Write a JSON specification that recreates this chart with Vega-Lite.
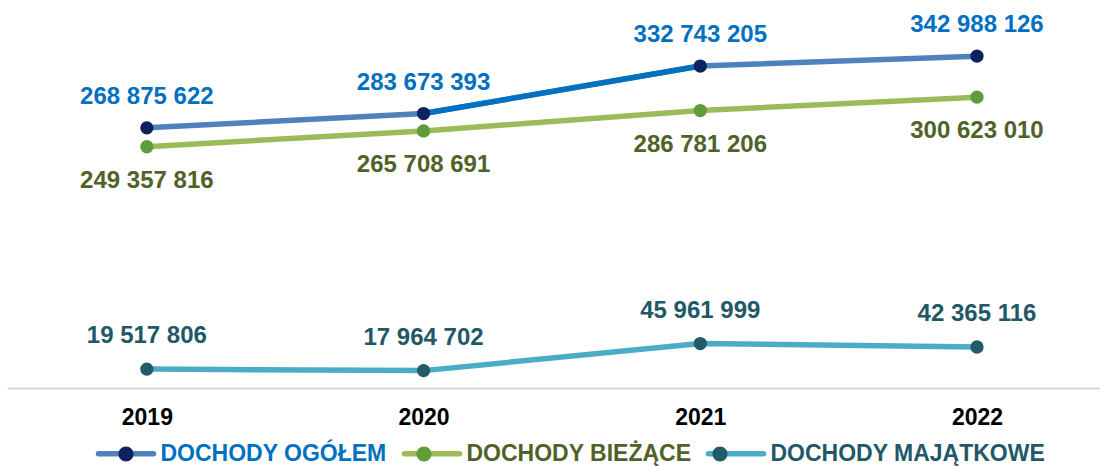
{
  "$schema": "https://vega.github.io/schema/vega-lite/v6.json",
  "width": 1093,
  "height": 387,
  "autosize": {"type": "none"},
  "padding": {"left": 7, "top": 1, "right": 0, "bottom": 78},
  "config": {
    "view": {"stroke": null},
    "font": "Liberation Sans",
    "locale": {"number": {"decimal": ",", "thousands": " ", "grouping": [3], "currency": ["", " zł"]}}
  },
  "data": {
    "values": [
      {"year": 2019, "series": "DOCHODY OGÓŁEM", "value": 268875622},
      {"year": 2020, "series": "DOCHODY OGÓŁEM", "value": 283673393},
      {"year": 2021, "series": "DOCHODY OGÓŁEM", "value": 332743205},
      {"year": 2022, "series": "DOCHODY OGÓŁEM", "value": 342988126},
      {"year": 2019, "series": "DOCHODY BIEŻĄCE", "value": 249357816},
      {"year": 2020, "series": "DOCHODY BIEŻĄCE", "value": 265708691},
      {"year": 2021, "series": "DOCHODY BIEŻĄCE", "value": 286781206},
      {"year": 2022, "series": "DOCHODY BIEŻĄCE", "value": 300623010},
      {"year": 2019, "series": "DOCHODY MAJĄTKOWE", "value": 19517806},
      {"year": 2020, "series": "DOCHODY MAJĄTKOWE", "value": 17964702},
      {"year": 2021, "series": "DOCHODY MAJĄTKOWE", "value": 45961999},
      {"year": 2022, "series": "DOCHODY MAJĄTKOWE", "value": 42365116}
    ]
  },
  "encoding": {
    "x": {
      "field": "year",
      "type": "ordinal",
      "scale": {"type": "point", "padding": 0.475, "align": 0.532},
      "axis": {
        "title": null,
        "labelAngle": 0,
        "labelFont": "Liberation Sans",
        "labelFontSize": 23,
        "labelFontWeight": "bold",
        "labelColor": "#000000",
        "ticks": false,
        "grid": false,
        "domainColor": "#d9d9d9",
        "domainWidth": 2,
        "labelPadding": 18
      }
    },
    "y": {
      "field": "value",
      "type": "quantitative",
      "scale": {"domain": [0, 400000000]},
      "axis": null
    }
  },
  "layer": [
    {
      "mark": {"type": "line", "strokeWidth": 5.5},
      "encoding": {
        "stroke": {
          "field": "series",
          "type": "nominal",
          "sort": ["DOCHODY OGÓŁEM", "DOCHODY BIEŻĄCE", "DOCHODY MAJĄTKOWE"],
          "scale": {"range": ["#4f81bd", "#9bbb59", "#4bacc6"]},
          "legend": {
            "title": null,
            "orient": "none",
            "legendX": 88.5,
            "legendY": 422,
            "direction": "horizontal",
            "symbolType": "stroke",
            "symbolSize": 3025,
            "symbolStrokeWidth": 5.5,
            "labelFont": "Liberation Sans",
            "labelFontSize": 23,
            "labelFontWeight": "bold",
            "labelOffset": 4,
            "labelLimit": 500,
            "columnPadding": 6,
            "padding": 0,
            "encode": {
              "symbols": {"update": {"strokeCap": {"value": "round"}}},
              "labels": {"update": {"fill": {"signal": "datum.value == 'DOCHODY OGÓŁEM' ? '#0070c0' : datum.value == 'DOCHODY BIEŻĄCE' ? '#4f6228' : '#215868'"}}}
            }
          }
        }
      }
    },
    {
      "transform": [{"filter": "datum.series == 'DOCHODY OGÓŁEM' && datum.year >= 2020 && datum.year <= 2021"}],
      "mark": {"type": "line", "strokeWidth": 5.5, "color": "#0070c0"},
      "encoding": {}
    },
    {
      "mark": {"type": "circle", "size": 177, "opacity": 1},
      "encoding": {
        "fill": {
          "field": "series",
          "type": "nominal",
          "scale": {
            "domain": ["DOCHODY OGÓŁEM", "DOCHODY BIEŻĄCE", "DOCHODY MAJĄTKOWE"],
            "range": ["#0e2160", "#619b3c", "#245b6b"]
          },
          "legend": {
            "title": null,
            "orient": "none",
            "legendX": 88.5,
            "legendY": 422,
            "direction": "horizontal",
            "symbolType": "M0.273,0A0.273,0.273,0,1,1,-0.273,0A0.273,0.273,0,1,1,0.273,0Z",
            "symbolSize": 3025,
            "symbolStrokeWidth": 5.5,
            "symbolStrokeColor": "transparent",
            "symbolOpacity": 1,
            "labelFont": "Liberation Sans",
            "labelFontSize": 23,
            "labelFontWeight": "bold",
            "labelOffset": 4,
            "labelLimit": 500,
            "labelOpacity": 0,
            "columnPadding": 6,
            "padding": 0
          }
        }
      }
    },
    {
      "transform": [{"filter": "datum.series == 'DOCHODY OGÓŁEM'"}],
      "mark": {"type": "text", "dy": -31, "fontSize": 24, "fontWeight": "bold", "color": "#0070c0", "font": "Liberation Sans"},
      "encoding": {"text": {"field": "value", "type": "quantitative", "format": ",d"}}
    },
    {
      "transform": [{"filter": "datum.series == 'DOCHODY BIEŻĄCE'"}],
      "mark": {"type": "text", "dy": 34, "fontSize": 24, "fontWeight": "bold", "color": "#4f6228", "font": "Liberation Sans"},
      "encoding": {"text": {"field": "value", "type": "quantitative", "format": ",d"}}
    },
    {
      "transform": [{"filter": "datum.series == 'DOCHODY MAJĄTKOWE'"}],
      "mark": {"type": "text", "dy": -33, "fontSize": 24, "fontWeight": "bold", "color": "#215868", "font": "Liberation Sans"},
      "encoding": {"text": {"field": "value", "type": "quantitative", "format": ",d"}}
    }
  ]
}
